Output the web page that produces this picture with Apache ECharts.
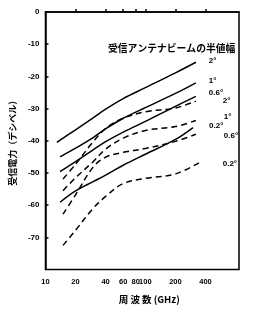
<!DOCTYPE html>
<html>
<head>
<meta charset="utf-8">
<script src="https://cdn.jsdelivr.net/npm/echarts@6/dist/echarts.min.js"></script>
<style>
html,body{margin:0;padding:0;background:#fff;}
#c{width:260px;height:309px;}
</style>
</head>
<body>
<div id="c"></div>
<script>
// Frequency (GHz) sample points and received power (dB) per beam half-width
const freqSolid2 = [13, 20, 30, 40, 60, 100, 200, 320];
const solid2 = [-40.5, -36.6, -32.9, -30.2, -26.9, -23.5, -18.9, -15.6];
const freqSolid1 = [14, 20, 30, 40, 60, 100, 200, 320];
const solid1 = [-45.0, -42.3, -39.0, -36.3, -33.0, -29.7, -25.3, -22.0];
const freqSolid06 = [14, 20, 30, 40, 60, 100, 200, 320];
const solid06 = [-49.6, -46.5, -42.8, -40.3, -37.3, -34.0, -29.3, -26.2];
const freqSolid02 = [14, 20, 30, 40, 60, 100, 200, 300];
const solid02 = [-59.1, -55.6, -52.7, -50.7, -47.6, -44.2, -39.6, -35.9];

const freqDashed2 = [15, 20, 30, 40, 60, 100, 200, 320];
const dashed2 = [-51.9, -47.3, -40.3, -36.2, -33.0, -31.0, -29.8, -27.7];
const freqDashed1 = [15, 20, 30, 40, 60, 100, 200, 320];
const dashed1 = [-55.5, -51.5, -46.5, -42.6, -39.2, -36.8, -35.6, -33.7];
const freqDashed06 = [15, 20, 30, 40, 60, 100, 200, 320];
const dashed06 = [-62.8, -56.8, -48.2, -45.1, -43.6, -42.4, -40.2, -38.0];
const freqDashed02 = [15, 20, 30, 40, 60, 100, 200, 350];
const dashed02 = [-72.5, -67.8, -61.0, -57.3, -53.3, -51.7, -50.3, -46.7];

const xTickValues = [10, 20, 40, 60, 80, 100, 200, 400];
const xTickMarks = [20, 40, 60, 80, 100, 200, 400];
const beamLabels = ['2°', '1°', '0.6°', '0.2°'];

const titleText = '受信アンテナビームの半値幅';
const xName = '周 波 数 (GHz)';
const yName = '受信電力（デシベル）';

function pairs(fs, vs) { return fs.map((f, i) => [f, vs[i]]); }

const lblFont = {fontFamily: 'Liberation Sans', fontWeight: 'bold', fontSize: 8, color: '#000'};

function mkSeries(name, fs, vs, dashed, text, off) {
  return {
    name: name, type: 'line', data: pairs(fs, vs), smooth: 0.35, symbol: 'none',
    lineStyle: {color: '#000', width: 1.5, type: dashed ? [6, 4] : 'solid'},
    endLabel: Object.assign({show: true, formatter: text, distance: 0, offset: off, align: 'left', verticalAlign: 'middle'}, lblFont),
    emphasis: {disabled: true}, animation: false, z: dashed ? 2 : 3
  };
}

const chart = echarts.init(document.getElementById('c'), null, {renderer: 'canvas'});
chart.setOption({
  backgroundColor: '#fff',
  animation: false,
  title: {
    text: titleText, left: 103, top: 38,
    textStyle: {fontFamily: 'Noto Sans CJK JP', fontWeight: 'bold', fontSize: 9.8, color: '#000'}
  },
  grid: {left: 45, top: 12, right: 21, bottom: 38, show: true, borderColor: '#000', borderWidth: 1.5, backgroundColor: 'transparent'},
  xAxis: {
    type: 'log', logBase: 10, min: 10, max: 865,
    name: xName, nameLocation: 'middle', nameGap: 25,
    nameTextStyle: {fontFamily: 'Noto Sans CJK JP', fontWeight: 'bold', fontSize: 9.5, color: '#000', padding: [0, 0, 0, 14]},
    axisLine: {show: true, lineStyle: {color: '#000', width: 1.5}},
    axisTick: {show: true, inside: true, length: 3, customValues: xTickMarks, lineStyle: {color: '#000', width: 1.5}},
    axisLabel: Object.assign({}, lblFont, {show: true, margin: 8, fontSize: 7.5, hideOverlap: false, interval: 0, customValues: xTickValues, formatter: v => String(Math.round(v))}),
    splitLine: {show: false}, minorTick: {show: false}
  },
  yAxis: {
    type: 'value', min: -80, max: 0, interval: 10,
    name: yName, nameLocation: 'middle', nameRotate: 90, nameGap: 22,
    nameTextStyle: {fontFamily: 'Noto Sans CJK JP', fontWeight: 'bold', fontSize: 9, color: '#000'},
    axisLine: {show: true, lineStyle: {color: '#000', width: 1.5}},
    axisTick: {show: true, inside: true, length: 3, lineStyle: {color: '#000', width: 1.5}},
    axisLabel: Object.assign({margin: 6, showMinLabel: false, formatter: v => (v === -80 ? '' : String(v))}, lblFont),
    splitLine: {show: false}
  },
  series: [
    mkSeries('solid2', freqSolid2, solid2, false, beamLabels[0], [13, -1.5]),
    mkSeries('solid1', freqSolid1, solid1, false, beamLabels[1], [13, -2]),
    mkSeries('solid06', freqSolid06, solid06, false, beamLabels[2], [13, -4]),
    mkSeries('solid02', freqSolid02, solid02, false, beamLabels[3], [16, -2]),
    mkSeries('dashed2', freqDashed2, dashed2, true, beamLabels[0], [27, 0]),
    mkSeries('dashed1', freqDashed1, dashed1, true, beamLabels[1], [28, -4]),
    mkSeries('dashed06', freqDashed06, dashed06, true, beamLabels[2], [28, 1]),
    mkSeries('dashed02', freqDashed02, dashed02, true, beamLabels[3], [23, 1])
  ]
});
</script>
</body>
</html>
